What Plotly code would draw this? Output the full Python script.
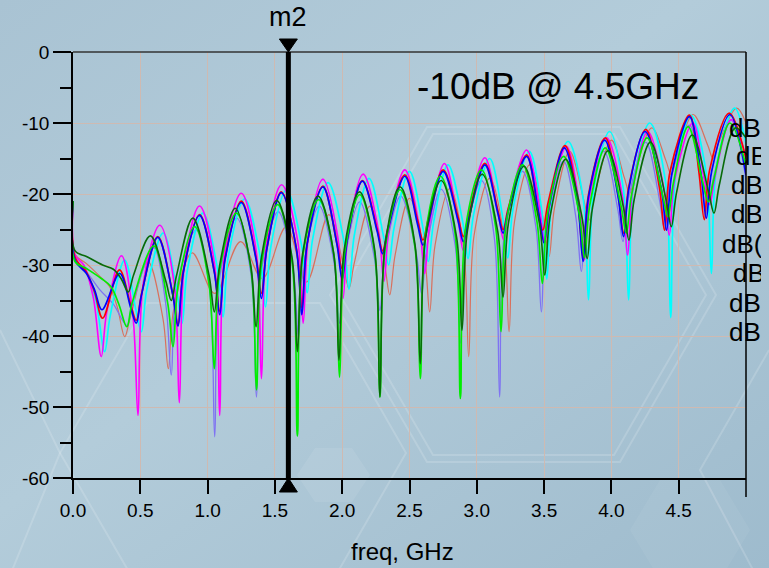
import base64
import plotly.graph_objects as go

# ---------------- data ----------------
X_TICKS = [0.0, 0.5, 1.0, 1.5, 2.0, 2.5, 3.0, 3.5, 4.0, 4.5]
Y_TICKS = [-60, -50, -40, -30, -20, -10, 0]
Y_TICK_TEXT = ["-60", "-50", "-40", "-30", "-20", "-10", "0"]
Y_MINOR = [-55, -45, -35, -25, -15, -5]
MARKER_FREQ = 1.6
MARKER_NAME = "m2"
NOTE_TEXT = "-10dB @ 4.5GHz"
X_TITLE = "freq, GHz"
LEGEND_LABELS = ["dB(S(1,1))", "dB(S(2,2))", "dB(S(3,3))", "dB(S(4,4))",
                 "dB(S(5,5))", "dB(S(6,6))", "dB(S(7,7))", "dB(S(8,8))"]

SALMON = [(0.0,-21.0),(0.015,-28.5),(0.1,-29.8),(0.2,-31.6),(0.27,-33.0),(0.33,-36.0),
    (0.384,-40.1),(0.424,-37.5),(0.555,-29.5),(0.668,-37.5),
    (0.708,-44.6),(0.748,-36.3),(0.885,-28.3),
    (1.053,-34.0),(1.245,-26.7),
    (1.407,-31.9),(1.585,-24.6),
    (1.734,-32.4),(1.90,-22.9),(2.01,-30.2),
    (2.05,-33.3),(2.09,-29.7),(2.205,-21.7),(2.313,-29.7),
    (2.353,-34.2),(2.393,-28.6),(2.50,-20.6),(2.61,-28.6),
    (2.65,-36.6),(2.69,-27.2),(2.80,-19.2),(2.90,-27.2),
    (2.94,-42.9),(2.98,-25.8),(3.096,-17.8),(3.20,-25.8),
    (3.24,-39.4),(3.28,-23.9),(3.393,-15.9),(3.497,-23.9),
    (3.537,-28.8),(3.577,-22.0),(3.69,-14.0),(3.794,-20.8),
    (3.834,-23.7),(3.874,-20.3),(4.0,-12.4),(4.096,-17.7),
    (4.136,-19.9),(4.176,-17.1),(4.30,-10.7),(4.405,-15.3),
    (4.445,-17.3),(4.485,-14.8),(4.606,-8.8),(4.715,-13.1),
    (4.755,-15.0),(4.795,-12.9),(4.93,-7.9),(5.0,-10.0)]

PURPLE = [(0.0,-21.0),(0.015,-29.5),(0.1,-31.0),(0.2,-33.5),(0.3,-35.5),
    (0.40,-38.5),(0.44,-35.6),(0.60,-27.6),(0.69,-35.6),
    (0.73,-45.5),(0.77,-33.1),(0.915,-25.1),(1.013,-33.1),
    (1.053,-54.2),(1.093,-31.4),(1.215,-23.4),(1.323,-31.4),
    (1.363,-48.6),(1.403,-30.5),(1.525,-22.5),(1.635,-30.5),
    (1.675,-40.0),(1.715,-29.7),(1.83,-21.7),(1.94,-29.7),
    (1.98,-38.2),(2.02,-29.1),(2.13,-21.1),(2.24,-29.1),
    (2.28,-36.4),(2.32,-28.3),(2.435,-20.3),(2.55,-28.3),
    (2.59,-34.0),(2.63,-27.3),(2.735,-19.3),(2.84,-27.3),
    (2.88,-41.0),(2.92,-26.1),(3.035,-18.1),(3.13,-26.1),
    (3.17,-48.6),(3.21,-24.8),(3.34,-16.8),(3.44,-24.8),
    (3.48,-36.6),(3.52,-23.4),(3.645,-15.4),(3.737,-23.4),
    (3.777,-30.9),(3.817,-22.0),(3.945,-14.0),(4.046,-22.0),
    (4.086,-26.7),(4.126,-20.7),(4.255,-12.7),(4.356,-20.7),
    (4.396,-25.1),(4.436,-18.3),(4.58,-10.3),(4.68,-18.3),
    (4.72,-21.6),(4.76,-17.6),(4.89,-9.6),(5.0,-18.0)]

CYAN = [(0.0,-21.0),(0.015,-29.2),(0.1,-31.0),(0.17,-35.0),
    (0.235,-42.2),(0.275,-37.3),(0.384,-29.3),(0.468,-36.4),
    (0.508,-39.4),(0.548,-33.5),(0.67,-25.5),(0.77,-33.5),
    (0.81,-38.2),(0.85,-30.7),(0.965,-22.7),(1.075,-30.7),
    (1.115,-37.3),(1.155,-28.7),(1.275,-20.7),(1.39,-28.7),
    (1.43,-35.9),(1.47,-27.4),(1.585,-19.4),(1.70,-27.4),
    (1.74,-33.9),(1.78,-26.4),(1.895,-18.4),(2.01,-26.4),
    (2.05,-33.4),(2.09,-25.8),(2.20,-17.8),(2.305,-25.8),
    (2.345,-30.0),(2.385,-24.8),(2.50,-16.8),(2.60,-24.8),
    (2.64,-29.5),(2.68,-23.9),(2.786,-15.9),(2.895,-23.9),
    (2.935,-29.1),(2.975,-23.0),(3.096,-15.0),(3.19,-23.0),
    (3.23,-29.0),(3.27,-22.0),(3.39,-14.0),(3.48,-22.0),
    (3.52,-32.0),(3.56,-20.6),(3.678,-12.6),(3.79,-20.6),
    (3.83,-34.9),(3.87,-19.2),(3.987,-11.2),(4.088,-19.2),
    (4.128,-34.9),(4.168,-18.0),(4.285,-10.0),(4.40,-18.0),
    (4.44,-37.4),(4.48,-16.9),(4.59,-8.9),(4.703,-16.9),
    (4.743,-31.2),(4.783,-15.9),(4.916,-7.9),(5.0,-13.0)]

MAGENTA = [(0.0,-21.0),(0.015,-28.6),(0.08,-30.0),(0.15,-34.5),
    (0.21,-42.9),(0.25,-36.7),(0.36,-28.7),(0.443,-36.7),
    (0.483,-51.2),(0.523,-32.4),(0.645,-24.4),(0.75,-32.4),
    (0.79,-49.4),(0.83,-29.7),(0.94,-21.7),(1.05,-29.7),
    (1.09,-51.2),(1.13,-27.9),(1.25,-19.9),(1.36,-27.9),
    (1.40,-46.0),(1.44,-26.7),(1.55,-18.7),(1.67,-26.7),
    (1.71,-38.2),(1.75,-25.9),(1.857,-17.9),(1.966,-25.9),
    (2.006,-34.7),(2.046,-25.2),(2.155,-17.2),(2.27,-25.2),
    (2.31,-32.3),(2.35,-24.6),(2.465,-16.6),(2.573,-24.6),
    (2.613,-31.2),(2.653,-23.7),(2.76,-15.7),(2.86,-23.7),
    (2.90,-28.0),(2.94,-22.9),(3.06,-14.9),(3.16,-22.9),
    (3.20,-26.5),(3.24,-21.8),(3.37,-13.8),(3.465,-21.8),
    (3.505,-26.9),(3.545,-21.3),(3.666,-13.3),(3.76,-21.3),
    (3.80,-29.3),(3.84,-20.1),(3.963,-12.1),(4.08,-20.1),
    (4.12,-28.6),(4.16,-19.2),(4.27,-11.2),(4.39,-19.2),
    (4.43,-25.8),(4.47,-18.0),(4.606,-10.0),(4.69,-18.0),
    (4.73,-21.5),(4.77,-17.5),(4.89,-9.5),(5.0,-15.0)]

RED = [(0.0,-21.0),(0.015,-28.9),(0.1,-31.0),(0.16,-33.8),
    (0.22,-37.5),(0.345,-30.7),(0.43,-35.7),
    (0.47,-37.8),(0.51,-34.0),(0.63,-26.0),(0.74,-34.0),
    (0.78,-38.4),(0.82,-30.9),(0.94,-22.9),(1.05,-30.9),
    (1.09,-36.5),(1.13,-29.0),(1.25,-21.0),(1.36,-29.0),
    (1.40,-34.0),(1.44,-27.7),(1.548,-19.7),(1.66,-27.7),
    (1.70,-36.0),(1.74,-26.9),(1.857,-18.9),(1.96,-26.9),
    (2.0,-30.5),(2.04,-26.1),(2.15,-18.1),(2.26,-25.0),
    (2.30,-28.0),(2.34,-24.8),(2.465,-17.3),(2.56,-23.7),
    (2.60,-26.5),(2.64,-23.5),(2.75,-16.6),(2.86,-23.2),
    (2.90,-26.0),(2.94,-22.9),(3.06,-15.7),(3.155,-22.2),
    (3.195,-25.0),(3.235,-21.9),(3.37,-14.5),(3.45,-21.9),
    (3.49,-25.1),(3.53,-21.2),(3.655,-13.2),(3.75,-21.2),
    (3.79,-29.0),(3.83,-20.1),(3.955,-12.1),(4.05,-20.1),
    (4.09,-25.5),(4.13,-18.9),(4.255,-10.9),(4.355,-18.9),
    (4.395,-25.1),(4.435,-16.9),(4.58,-8.9),(4.65,-16.9),
    (4.69,-23.6),(4.73,-16.6),(4.875,-8.6),(5.0,-15.0)]

BLUE = [(0.0,-21.0),(0.015,-29.3),(0.1,-31.2),(0.16,-33.5),
    (0.215,-36.3),(0.347,-31.2),(0.43,-36.1),
    (0.47,-38.2),(0.51,-34.1),(0.63,-26.1),(0.74,-34.1),
    (0.78,-38.6),(0.82,-31.0),(0.94,-23.0),(1.05,-31.0),
    (1.09,-37.0),(1.13,-29.2),(1.25,-21.2),(1.36,-29.2),
    (1.40,-34.7),(1.44,-27.8),(1.548,-19.8),(1.66,-27.8),
    (1.70,-37.0),(1.74,-27.0),(1.857,-19.0),(1.96,-27.0),
    (2.0,-32.0),(2.04,-26.2),(2.15,-18.2),(2.26,-25.3),
    (2.30,-28.4),(2.34,-25.1),(2.465,-17.5),(2.56,-24.3),
    (2.60,-27.2),(2.64,-24.1),(2.75,-16.8),(2.86,-23.7),
    (2.90,-26.7),(2.94,-23.5),(3.06,-15.9),(3.155,-22.6),
    (3.195,-25.5),(3.235,-22.3),(3.37,-14.7),(3.46,-22.7),
    (3.50,-26.9),(3.54,-21.5),(3.65,-13.5),(3.75,-21.5),
    (3.79,-29.5),(3.83,-20.4),(3.95,-12.4),(4.05,-20.4),
    (4.09,-26.0),(4.13,-19.2),(4.25,-11.2),(4.37,-19.2),
    (4.41,-25.1),(4.45,-17.1),(4.58,-9.1),(4.665,-17.1),
    (4.705,-23.4),(4.745,-16.8),(4.88,-8.8),(5.0,-17.3)]

GREEN = [(0.0,-21.0),(0.015,-29.5),(0.1,-30.5),(0.21,-31.9),(0.28,-33.0),(0.34,-35.5),
    (0.40,-38.7),(0.44,-35.3),(0.60,-27.3),(0.703,-35.3),
    (0.743,-41.5),(0.783,-32.6),(0.904,-24.6),(1.01,-32.6),
    (1.05,-44.6),(1.09,-30.7),(1.214,-22.7),(1.323,-30.7),
    (1.363,-47.6),(1.403,-29.5),(1.52,-21.5),(1.627,-29.5),
    (1.667,-54.1),(1.707,-28.8),(1.825,-20.8),(1.94,-28.8),
    (1.98,-45.8),(2.02,-28.1),(2.13,-20.1),(2.24,-28.1),
    (2.28,-48.6),(2.32,-27.4),(2.43,-19.4),(2.54,-27.4),
    (2.58,-46.0),(2.62,-25.5),(2.73,-17.5),(2.838,-25.5),
    (2.878,-48.8),(2.918,-24.6),(3.035,-16.6),(3.14,-24.6),
    (3.18,-39.4),(3.22,-23.9),(3.34,-15.9),(3.447,-23.9),
    (3.487,-32.6),(3.527,-22.7),(3.645,-14.7),(3.76,-22.7),
    (3.80,-29.0),(3.84,-21.5),(3.955,-13.5),(4.07,-21.5),
    (4.11,-25.5),(4.15,-20.1),(4.265,-12.1),(4.38,-20.1),
    (4.42,-23.2),(4.46,-18.5),(4.57,-10.5),(4.68,-18.5),
    (4.72,-21.1),(4.76,-18.0),(4.88,-10.0),(5.0,-16.0)]

DARKGREEN = [(0.0,-21.0),(0.015,-28.0),(0.1,-28.8),(0.22,-30.0),(0.30,-30.6),(0.36,-32.0),
    (0.41,-33.8),(0.45,-31.4),(0.575,-25.9),(0.69,-32.3),
    (0.73,-35.0),(0.77,-31.4),(0.89,-23.4),(1.01,-31.4),
    (1.05,-36.6),(1.09,-30.0),(1.205,-22.0),(1.32,-30.0),
    (1.36,-38.7),(1.40,-28.9),(1.513,-20.9),(1.627,-28.9),
    (1.667,-42.2),(1.707,-28.3),(1.82,-20.3),(1.936,-28.3),
    (1.976,-43.4),(2.016,-27.7),(2.128,-19.7),(2.24,-27.7),
    (2.28,-48.6),(2.32,-27.0),(2.43,-19.0),(2.54,-27.0),
    (2.58,-43.9),(2.62,-26.1),(2.735,-18.1),(2.85,-26.1),
    (2.89,-39.2),(2.93,-25.2),(3.04,-17.2),(3.155,-25.2),
    (3.195,-34.5),(3.235,-24.1),(3.35,-16.1),(3.465,-24.1),
    (3.505,-31.4),(3.545,-23.1),(3.66,-15.1),(3.78,-23.1),
    (3.82,-29.1),(3.86,-21.9),(3.975,-13.9),(4.09,-21.9),
    (4.13,-26.5),(4.17,-20.7),(4.29,-12.7),(4.405,-20.7),
    (4.445,-24.6),(4.485,-19.7),(4.60,-11.7),(4.722,-19.7),
    (4.762,-22.7),(4.802,-18.7),(4.92,-10.7),(5.0,-12.1)]

# draw order (bottom -> top) with styling
SERIES = [
    ("salmon", SALMON, "#d9705c", 1.2),
    ("purple", PURPLE, "#7f73f2", 1.3),
    ("cyan", CYAN, "#00ffff", 1.7),
    ("magenta", MAGENTA, "#ff00ff", 1.6),
    ("red", RED, "#ff0000", 1.7),
    ("blue", BLUE, "#0000ff", 1.7),
    ("green", GREEN, "#00ee00", 1.7),
    ("darkgreen", DARKGREEN, "#086b08", 1.6),
]

FONT = "Liberation Sans, Arial, sans-serif"

# ---------------- geometry ----------------
W, H = 769, 568
L, R, T, B = 73, 8, 52, 90          # paper extends to x=761 (clip edge of the labels)
PAPER_W = W - L - R                 # 688
PH = H - T - B                      # 426
PLOT_W = 673                        # main plot area width (73 .. 746)
DOM = PLOT_W / PAPER_W


def px_x(px):
    return (px - L) / PAPER_W


def px_y(py):
    return (H - B - py) / PH


fig = go.Figure()
for name, pts, color, width in SERIES:
    xs = [p[0] for p in pts]
    ys = [p[1] for p in pts]
    fig.add_trace(go.Scatter(x=xs, y=ys, mode="lines", name=name,
                             line=dict(color=color, width=width, shape="spline", smoothing=1.0),
                             hoverinfo="skip", showlegend=False))

# clipped legend labels (text trace on an overlay subplot whose right edge is x=761 px)
leg_x = [729, 736, 731, 731, 722, 733, 729, 729]
leg_y = [130, 158, 187, 216, 246, 275, 305, 334]
fig.add_trace(go.Scatter(x=[px_x(v) for v in leg_x], y=[px_y(v) for v in leg_y],
                         xaxis="x2", yaxis="y2", mode="text", text=LEGEND_LABELS,
                         textposition="middle right", cliponaxis=True,
                         textfont=dict(size=26, family=FONT, color="black"),
                         hoverinfo="skip", showlegend=False))

# ---------------- background (gradient + faint hexagons) ----------------
svg = """<svg xmlns='http://www.w3.org/2000/svg' width='769' height='568' viewBox='0 0 769 568'>
<defs>
<linearGradient id='g' x1='0' y1='0' x2='1' y2='1'>
<stop offset='0' stop-color='#a9c3d3'/>
<stop offset='0.45' stop-color='#b3ccda'/>
<stop offset='1' stop-color='#9ebbcd'/>
</linearGradient>
</defs>
<rect width='769' height='568' fill='url(#g)'/>
<g fill='none' stroke='#ffffff' stroke-opacity='0.16' stroke-width='2'>
<polygon points='427,127 620,127 716,295 620,462 427,462 330,295'/>
<polygon points='433,134 614,134 706,295 614,455 433,455 340,295'/>
<polygon points='147,303 320,303 406,453 320,603 147,603 60,453'/>
<polyline points='0,600 60,453 0,330'/>
<polyline points='769,350 700,470 769,600'/>
</g>
<polygon points='315,448 352,448 370,475 352,502 315,502 297,475' fill='#ffffff' fill-opacity='0.08'/>
<polygon points='660,480 720,480 750,530 720,580 660,580 630,530' fill='#ffffff' fill-opacity='0.05'/>
</svg>"""
svg_uri = "data:image/svg+xml;base64," + base64.b64encode(svg.encode()).decode()

fig.add_layout_image(dict(source=svg_uri, xref="paper", yref="paper",
                          x=-L / PAPER_W, y=1 + T / PH, sizex=W / PAPER_W, sizey=H / PH,
                          xanchor="left", yanchor="top", sizing="stretch", layer="below"))

grid_col = "rgb(206,186,178)"
fig.update_layout(
    width=W, height=H,
    margin=dict(l=L, r=R, t=T, b=B, pad=0),
    paper_bgcolor="#adc7d6",
    plot_bgcolor="rgba(0,0,0,0)",
    font=dict(family=FONT, color="black"),
    showlegend=False,
    xaxis=dict(domain=[0, DOM], range=[0, 5], tickvals=X_TICKS, tickformat=".1f",
               ticks="outside", ticklen=14, tickwidth=1.5, tickcolor="black",
               showline=True, linecolor="black", linewidth=1.5,
               showgrid=True, gridcolor=grid_col, gridwidth=1,
               zeroline=False, tickfont=dict(size=19, family=FONT, color="black"),
               fixedrange=True),
    yaxis=dict(domain=[0, 1], range=[-60, 0], tickvals=Y_TICKS, ticktext=Y_TICK_TEXT,
               ticks="outside", ticklen=18, tickwidth=1.5, tickcolor="black",
               showline=True, linecolor="black", linewidth=1.5,
               showgrid=True, gridcolor=grid_col, gridwidth=1,
               zeroline=False, tickfont=dict(size=19, family=FONT, color="black"),
               minor=dict(tickvals=Y_MINOR, ticks="outside", ticklen=11, tickwidth=1.5,
                          tickcolor="black", showgrid=False),
               fixedrange=True),
    xaxis2=dict(domain=[0, 1], range=[0, 1], anchor="y2", visible=False, fixedrange=True),
    yaxis2=dict(domain=[0, 1], range=[0, 1], anchor="x2", visible=False, fixedrange=True),
)

# frame: top and right borders
fig.add_shape(type="line", xref="paper", yref="paper", x0=0, x1=DOM, y0=1, y1=1,
              line=dict(color="#333333", width=1.5))
fig.add_shape(type="line", xref="paper", yref="paper", x0=DOM, x1=DOM, y0=-19 / PH, y1=1,
              line=dict(color="black", width=1.5))

# marker m2
fig.add_shape(type="line", xref="x", yref="paper", x0=MARKER_FREQ, x1=MARKER_FREQ, y0=0, y1=1,
              line=dict(color="black", width=5))
tw = 9 / PLOT_W * 5  # half-width of triangle in data units
fig.add_shape(type="path", xref="x", yref="paper",
              path=f"M {MARKER_FREQ - tw},{1 + 13 / PH} L {MARKER_FREQ + tw},{1 + 13 / PH} L {MARKER_FREQ},1 Z",
              fillcolor="black", line=dict(color="black", width=1))
fig.add_shape(type="path", xref="x", yref="paper",
              path=f"M {MARKER_FREQ - tw},{-14 / PH} L {MARKER_FREQ + tw},{-14 / PH} L {MARKER_FREQ},0 Z",
              fillcolor="black", line=dict(color="black", width=1))
fig.add_annotation(x=MARKER_FREQ, xref="x", y=px_y(17), yref="paper",
                   text=MARKER_NAME, showarrow=False, xanchor="center", yanchor="middle",
                   font=dict(size=27, family=FONT, color="black"))

# note text
fig.add_annotation(x=px_x(558), xref="paper", y=px_y(86), yref="paper",
                   text=NOTE_TEXT, showarrow=False, xanchor="center", yanchor="middle",
                   font=dict(size=37, family=FONT, color="black"))

# x title
fig.add_annotation(x=px_x(402), xref="paper", y=px_y(551), yref="paper",
                   text=X_TITLE, showarrow=False, xanchor="center", yanchor="middle",
                   font=dict(size=24, family=FONT, color="black"))

fig.write_html("out.html", config={"displayModeBar": False},
               post_script="document.body.style.margin='0';document.body.style.overflow='hidden';")
